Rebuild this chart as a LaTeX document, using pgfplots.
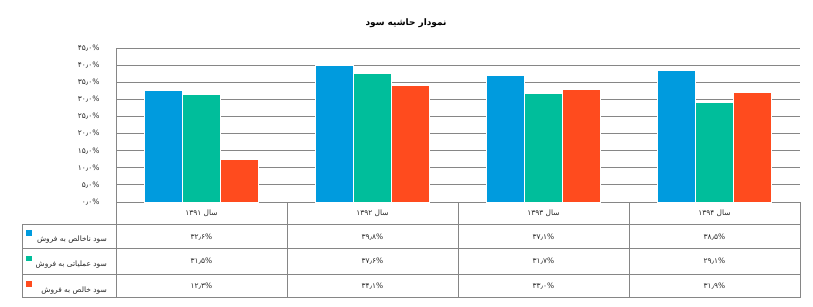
\documentclass[border=0pt]{standalone}
\usepackage{fontspec}
\usepackage{pgfplots}
\pgfplotsset{compat=1.18}
\TeXXeTstate=1
\newfontfamily\fa[Script=Arabic]{DejaVu Sans}
\definecolor{cBlue}{RGB}{0,155,222}
\definecolor{cTeal}{RGB}{0,190,155}
\definecolor{cRed}{RGB}{255,75,30}
\definecolor{cGrid}{RGB}{134,134,134}
\definecolor{cText}{RGB}{40,40,40}
\begin{document}
\begin{tikzpicture}
\path[use as bounding box] (0,0) rectangle (813bp,307bp);
\begin{axis}[
  at={(116bp,105bp)}, anchor=south west,
  scale only axis, width=684bp, height=154bp,
  xmin=-0.5, xmax=3.5, ymin=0, ymax=45,
  ybar=0bp, bar width=38bp,
  xtick={0,1,2,3},
  xticklabels={{\beginR سال ۱۳۹۱\endR},{\beginR سال ۱۳۹۲\endR},{\beginR سال ۱۳۹۳\endR},{\beginR سال ۱۳۹۴\endR}},
  ytick={0,5,10,15,20,25,30,35,40,45},
  yticklabels={{۰٫۰\%},{۵٫۰\%},{۱۰٫۰\%},{۱۵٫۰\%},{۲۰٫۰\%},{۲۵٫۰\%},{۳۰٫۰\%},{۳۵٫۰\%},{۴۰٫۰\%},{۴۵٫۰\%}},
  major tick length=0pt,
  axis x line*=bottom, axis y line*=left,
  axis line style={draw=cGrid, line width=1bp, -},
  ymajorgrids, grid style={cGrid, line width=1bp},
  tick label style={font=\fa\fontsize{7.5}{9}\selectfont, text=cText},
  xticklabel style={anchor=center, yshift=-11.5bp},
  yticklabel style={anchor=east, xshift=-13bp},
  clip=false,
  title={\beginR نمودار حاشیه سود\endR},
  title style={at={(0.424,1.125)}, anchor=center, font=\fa\bfseries\fontsize{9}{10}\selectfont, text=black},
  legend image code/.code={\fill[#1,draw=none] (0bp,3.5bp) rectangle (5.5bp,9bp);},
  legend cell align=right,
  legend style={at={(-0.1316,-0.181)}, anchor=north west, draw=none, fill=none, inner sep=0pt,
    row sep=12.5bp, column sep=4bp, font=\fa\fontsize{7.5}{9}\selectfont, text=cText,
    nodes={text height=6bp, text depth=2bp, inner sep=0bp}},
]
\addplot[fill=cBlue, draw=white, line width=1bp] coordinates {(0,32.6) (1,39.8) (2,37.1) (3,38.5)};
\addlegendentry{\beginR سود ناخالص به فروش\endR}
\addplot[fill=cTeal, draw=white, line width=1bp] coordinates {(0,31.5) (1,37.6) (2,31.7) (3,29.1)};
\addlegendentry{\beginR سود عملیاتی به فروش\endR}
\addplot[fill=cRed, draw=white, line width=1bp] coordinates {(0,12.3) (1,34.1) (2,33.0) (3,31.9)};
\addlegendentry{\beginR سود خالص به فروش\endR}
% table grid
\draw[cGrid, line width=1bp] (-1.0497,-6.72) -- (3.5,-6.72);
\draw[cGrid, line width=1bp] (-1.0497,-13.73) -- (3.5,-13.73);
\draw[cGrid, line width=1bp] (-1.0497,-21.04) -- (3.5,-21.04);
\draw[cGrid, line width=1bp] (-1.0497,-28.05) -- (3.5,-28.05);
\draw[cGrid, line width=1bp] (-1.0497,-6.72) -- (-1.0497,-28.05);
\draw[cGrid, line width=1bp] (-0.5,0) -- (-0.5,-28.05);
\draw[cGrid, line width=1bp] (0.5,0) -- (0.5,-28.05);
\draw[cGrid, line width=1bp] (1.5,0) -- (1.5,-28.05);
\draw[cGrid, line width=1bp] (2.5,0) -- (2.5,-28.05);
\draw[cGrid, line width=1bp] (3.5,0) -- (3.5,-28.05);
% table values
\begin{scope}[every node/.style={font=\fa\fontsize{7.5}{9}\selectfont, text=cText}]
\node at (0,-10.23) {۳۲٫۶\%};
\node at (1,-10.23) {۳۹٫۸\%};
\node at (2,-10.23) {۳۷٫۱\%};
\node at (3,-10.23) {۳۸٫۵\%};
\node at (0,-17.39) {۳۱٫۵\%};
\node at (1,-17.39) {۳۷٫۶\%};
\node at (2,-17.39) {۳۱٫۷\%};
\node at (3,-17.39) {۲۹٫۱\%};
\node at (0,-24.55) {۱۲٫۳\%};
\node at (1,-24.55) {۳۴٫۱\%};
\node at (2,-24.55) {۳۳٫۰\%};
\node at (3,-24.55) {۳۱٫۹\%};
\end{scope}
\end{axis}
\end{tikzpicture}
\end{document}
